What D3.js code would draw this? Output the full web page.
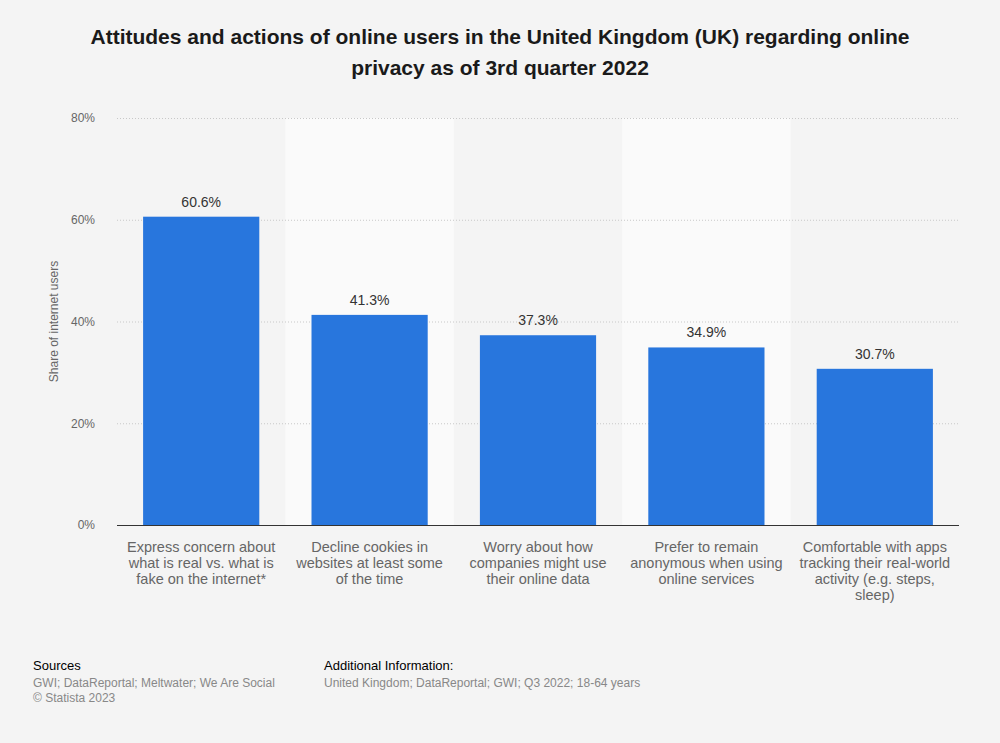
<!DOCTYPE html>
<html>
<head>
<meta charset="utf-8">
<script src="https://cdn.jsdelivr.net/npm/d3@7"></script>
<style>
  body { margin: 0; background: #f4f4f4; }
  svg { display: block; font-family: "Liberation Sans", Arial, sans-serif; }
</style>
</head>
<body>
<svg id="chart"></svg>
<script>
var width = 1000;
var height = 743;

// DATA
var categories = [
  ["Express concern about", "what is real vs. what is", "fake on the internet*"],
  ["Decline cookies in", "websites at least some", "of the time"],
  ["Worry about how", "companies might use", "their online data"],
  ["Prefer to remain", "anonymous when using", "online services"],
  ["Comfortable with apps", "tracking their real-world", "activity (e.g. steps,", "sleep)"]
];
var values = [60.6, 41.3, 37.3, 34.9, 30.7];
var yTicks = [0, 20, 40, 60, 80];

// plot area (note: "top" is reserved on window, so use other names)
var plotLeft = 117, plotRight = 959, plotTop = 118, plotBottom = 525;

var svg = d3.select("#chart")
    .attr("width", width)
    .attr("height", height);

svg.append("rect")
    .attr("width", width)
    .attr("height", height)
    .attr("fill", "#f4f4f4");

// SCALES
var xScale = d3.scaleBand()
    .domain(d3.range(values.length))
    .range([plotLeft, plotRight])
    .paddingInner(0.31)
    .paddingOuter(0.155);

var bandScale = d3.scaleBand()
    .domain(d3.range(values.length))
    .range([plotLeft, plotRight]);

var yScale = d3.scaleLinear()
    .domain([0, 80])
    .range([plotBottom, plotTop]);

// alternating column bands
svg.append("g")
  .selectAll("rect")
  .data(d3.range(values.length).filter(function(i) { return i % 2 === 1; }))
  .enter()
  .append("rect")
    .attr("x", function(i) { return bandScale(i); })
    .attr("y", plotTop)
    .attr("width", bandScale.bandwidth())
    .attr("height", plotBottom - plotTop)
    .attr("fill", "#fafafa");

// gridlines + y axis
var yAxis = d3.axisLeft(yScale)
    .tickValues(yTicks)
    .tickSize(-(plotRight - plotLeft))
    .tickPadding(22)
    .tickFormat(function(d) { return d + "%"; });

var gy = svg.append("g")
    .attr("transform", "translate(" + plotLeft + ",0)")
    .call(yAxis);
gy.select(".domain").remove();
gy.selectAll(".tick line")
    .attr("stroke", "#c8c8c8")
    .attr("stroke-dasharray", "1,2");
gy.selectAll(".tick text")
    .attr("fill", "#666")
    .attr("font-size", 12)
    .attr("font-family", "Liberation Sans, Arial, sans-serif");

// BARS
svg.append("g")
  .selectAll("rect")
  .data(values)
  .enter()
  .append("rect")
    .attr("x", function(d, i) { return xScale(i); })
    .attr("y", function(d) { return yScale(d); })
    .attr("width", xScale.bandwidth())
    .attr("height", function(d) { return plotBottom - yScale(d); })
    .attr("fill", "#2876dd");

// value labels
svg.append("g")
  .selectAll("text")
  .data(values)
  .enter()
  .append("text")
    .attr("x", function(d, i) { return xScale(i) + xScale.bandwidth() / 2; })
    .attr("y", function(d) { return yScale(d) - 10; })
    .attr("text-anchor", "middle")
    .attr("font-size", 14)
    .attr("fill", "#333")
    .text(function(d) { return d.toFixed(1) + "%"; });

// x axis baseline
svg.append("line")
    .attr("x1", plotLeft)
    .attr("x2", plotRight)
    .attr("y1", plotBottom + 0.5)
    .attr("y2", plotBottom + 0.5)
    .attr("stroke", "#333")
    .attr("stroke-width", 1);

// category labels
var catLabels = svg.append("g")
  .selectAll("text")
  .data(categories)
  .enter()
  .append("text")
    .attr("x", function(d, i) { return bandScale(i) + bandScale.bandwidth() / 2; })
    .attr("y", plotBottom + 27)
    .attr("text-anchor", "middle")
    .attr("font-size", 14.5)
    .attr("fill", "#666");
catLabels.selectAll("tspan")
  .data(function(d) { return d; })
  .enter()
  .append("tspan")
    .attr("x", function() { return d3.select(this.parentNode).attr("x"); })
    .attr("dy", function(d, j) { return j === 0 ? 0 : 16; })
    .text(function(d) { return d; });

// y axis label
svg.append("text")
    .attr("transform", "rotate(-90)")
    .attr("x", -(plotTop + plotBottom) / 2)
    .attr("y", 58)
    .attr("text-anchor", "middle")
    .attr("font-size", 12)
    .attr("fill", "#666")
    .text("Share of internet users");

// TITLE
var title = svg.append("text")
    .attr("x", width / 2)
    .attr("y", 44)
    .attr("text-anchor", "middle")
    .attr("font-size", 21)
    .attr("font-weight", "bold")
    .attr("fill", "#1a1a1a");
title.append("tspan").attr("x", width / 2).attr("dy", 0)
    .text("Attitudes and actions of online users in the United Kingdom (UK) regarding online");
title.append("tspan").attr("x", width / 2).attr("dy", 31)
    .text("privacy as of 3rd quarter 2022");

// FOOTER
svg.append("text").attr("x", 33).attr("y", 670)
    .attr("font-size", 13).attr("fill", "#000").text("Sources");
svg.append("text").attr("x", 33).attr("y", 687)
    .attr("font-size", 12).attr("fill", "#888").text("GWI; DataReportal; Meltwater; We Are Social");
svg.append("text").attr("x", 33).attr("y", 702)
    .attr("font-size", 12).attr("fill", "#888").text("© Statista 2023");
svg.append("text").attr("x", 324).attr("y", 670)
    .attr("font-size", 13).attr("fill", "#000").text("Additional Information:");
svg.append("text").attr("x", 324).attr("y", 687)
    .attr("font-size", 12).attr("fill", "#888").text("United Kingdom; DataReportal; GWI; Q3 2022; 18-64 years");
</script>
</body>
</html>
